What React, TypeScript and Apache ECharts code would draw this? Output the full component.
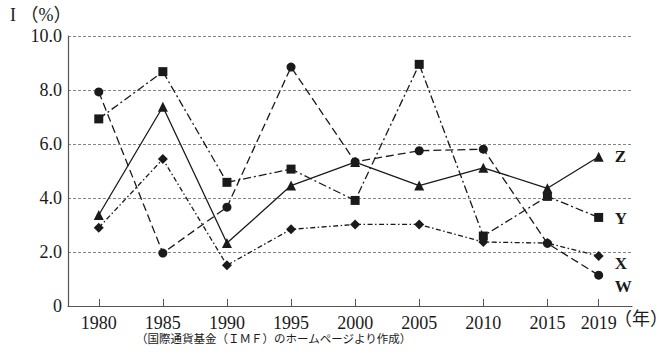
import React, { useEffect, useRef } from "react";
import * as echarts from "echarts";

const years = [1980, 1985, 1990, 1995, 2000, 2005, 2010, 2015, 2019];
const seriesW = [7.93, 1.96, 3.66, 8.85, 5.34, 5.75, 5.81, 2.32, 1.14];
const seriesY = [6.93, 8.68, 4.58, 5.07, 3.91, 8.95, 2.59, 4.06, 3.28];
const seriesZ = [3.37, 7.38, 2.33, 4.46, 5.33, 4.46, 5.12, 4.36, 5.53];
const seriesX = [2.9, 5.44, 1.51, 2.84, 3.02, 3.02, 2.37, 2.33, 1.85];

const SERIF = "'Liberation Serif', 'Noto Sans CJK JP', serif";
const INK = "#1a1a1a";

function mk(name: string, vals: number[], symbol: string, size: number, dash: any, labelOffset: number[]) {
  return {
    name,
    type: "line",
    data: years.map((y, i) => [y, vals[i]]),
    symbol,
    symbolSize: size,
    showAllSymbol: true,
    lineStyle: { color: INK, width: 1.3, type: dash },
    itemStyle: { color: INK },
    endLabel: {
      show: true,
      formatter: name,
      fontFamily: SERIF,
      fontWeight: "bold",
      fontSize: 17,
      color: INK,
      distance: 16,
      offset: labelOffset,
    },
    z: 3,
  };
}

export default function App() {
  const ref = useRef<HTMLDivElement>(null);
  useEffect(() => {
    const chart = echarts.init(ref.current!, null, { renderer: "svg" });
    chart.setOption({
      animation: false,
      grid: { left: 68, right: 40, top: 36, bottom: 49, containLabel: false },
      xAxis: {
        type: "value",
        min: 1977.6,
        max: 2021.6,
        axisLine: { show: true, lineStyle: { color: "#555", width: 1.2 } },
        axisTick: { show: true, inside: true, length: 7, customValues: years, lineStyle: { color: "#555" } },
        axisLabel: {
          customValues: years,
          fontFamily: SERIF,
          fontSize: 18,
          color: INK,
          margin: 8,
          formatter: (v: number) => String(v),
        },
        splitLine: { show: false },
      },
      yAxis: {
        type: "value",
        min: 0,
        max: 10,
        interval: 2,
        axisLine: { show: true, lineStyle: { color: "#555", width: 1.2 } },
        axisTick: { show: false },
        axisLabel: {
          fontFamily: SERIF,
          fontSize: 18,
          color: INK,
          margin: 6,
          formatter: (v: number) => (v === 0 ? "0" : v.toFixed(1)),
        },
        splitLine: { show: true, lineStyle: { color: "#666", width: 0.8, type: [3, 2] } },
      },
      series: [
        mk("Z", seriesZ, "triangle", 10, "solid", [0, 0]),
        mk("Y", seriesY, "rect", 9, [8, 3, 2, 3], [0, 1]),
        mk("X", seriesX, "diamond", 10, [5, 2.5, 1.5, 2.5], [0, 7]),
        mk("W", seriesW, "circle", 9, [8, 4], [0, 11]),
      ],
      graphic: [
        { type: "text", left: 10, top: 6, style: { text: "I （%）", font: `18px ${SERIF}`, fill: INK } },
        { type: "text", left: 614, top: 310, style: { text: "（年）", font: `18px ${SERIF}`, fill: INK } },
        {
          type: "text",
          left: 136,
          top: 333,
          style: { text: "（国際通貨基金（ＩＭＦ）のホームページより作成）", font: `11.5px ${SERIF}`, fill: INK },
        },
      ],
    });
    return () => chart.dispose();
  }, []);
  return <div ref={ref} style={{ width: 672, height: 355, position: "absolute", left: 0, top: 0 }} />;
}
